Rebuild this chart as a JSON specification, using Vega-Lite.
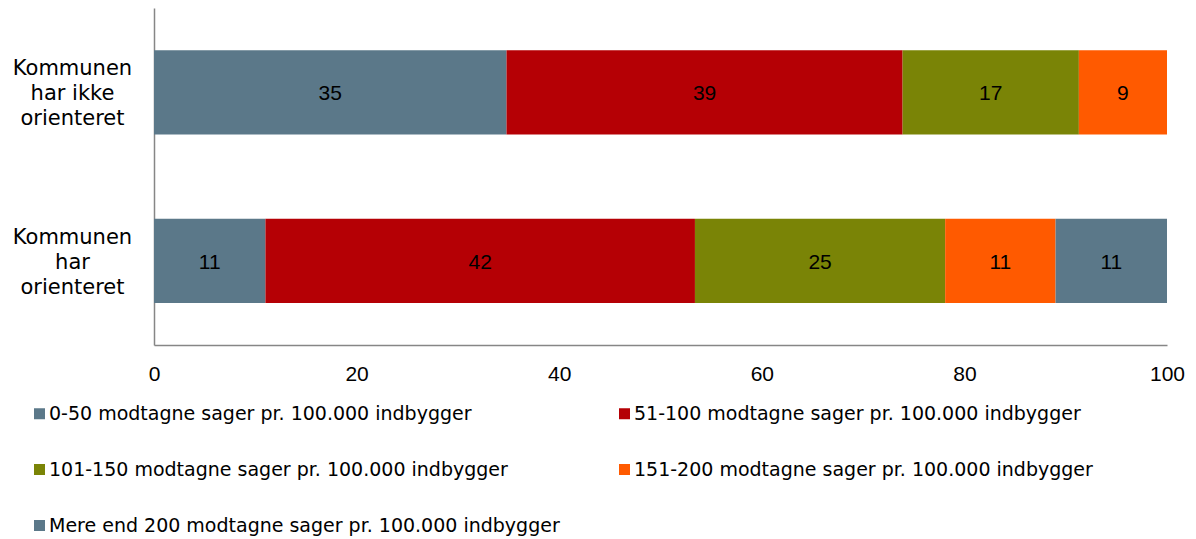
{
  "$schema": "https://vega.github.io/schema/vega-lite/v6.json",
  "autosize": {"type": "none"},
  "padding": {"left": 154, "top": 8, "right": 29, "bottom": 194},
  "width": 1013,
  "height": 337,
  "background": "white",
  "config": {"view": {"stroke": null}},
  "data": {
    "values": [
      {"group": "Kommunen|har ikke|orienteret", "cat": "0-50 modtagne sager pr. 100.000 indbygger", "value": 34.8},
      {"group": "Kommunen|har ikke|orienteret", "cat": "51-100 modtagne sager pr. 100.000 indbygger", "value": 39.1},
      {"group": "Kommunen|har ikke|orienteret", "cat": "101-150 modtagne sager pr. 100.000 indbygger", "value": 17.4},
      {"group": "Kommunen|har ikke|orienteret", "cat": "151-200 modtagne sager pr. 100.000 indbygger", "value": 8.7},
      {"group": "Kommunen|har|orienteret", "cat": "0-50 modtagne sager pr. 100.000 indbygger", "value": 11.0},
      {"group": "Kommunen|har|orienteret", "cat": "51-100 modtagne sager pr. 100.000 indbygger", "value": 42.4},
      {"group": "Kommunen|har|orienteret", "cat": "101-150 modtagne sager pr. 100.000 indbygger", "value": 24.7},
      {"group": "Kommunen|har|orienteret", "cat": "151-200 modtagne sager pr. 100.000 indbygger", "value": 10.9},
      {"group": "Kommunen|har|orienteret", "cat": "Mere end 200 modtagne sager pr. 100.000 indbygger", "value": 11.0}
    ]
  },
  "transform": [
    {"stack": "value", "groupby": ["group"], "as": ["v0", "v1"]},
    {"calculate": "(datum.v0 + datum.v1) / 2", "as": "mid"}
  ],
  "encoding": {
    "y": {
      "field": "group",
      "type": "nominal",
      "sort": null,
      "scale": {"paddingInner": 0.5, "paddingOuter": 0.25},
      "axis": {
        "title": null,
        "labelExpr": "split(datum.value, '|')",
        "labelFont": "DejaVu Sans",
        "labelFontSize": 21,
        "labelLineHeight": 25,
        "labelColor": "#000000",
        "labelAlign": "center",
        "labelPadding": 82,
        "labelOffset": -23,
        "ticks": false,
        "domainColor": "#868686",
        "domainWidth": 1.5
      }
    }
  },
  "layer": [
    {
      "mark": {"type": "bar"},
      "encoding": {
        "x": {
          "field": "v0",
          "type": "quantitative",
          "scale": {"domain": [0, 100], "nice": false},
          "axis": {
            "title": null,
            "values": [0, 20, 40, 60, 80, 100],
            "grid": false,
            "ticks": false,
            "labelFont": "Liberation Sans",
            "labelFontSize": 21,
            "labelColor": "#000000",
            "labelPadding": 18,
            "labelFlush": false,
            "domainColor": "#868686",
            "domainWidth": 1.5
          }
        },
        "x2": {"field": "v1"},
        "color": {
          "field": "cat",
          "type": "nominal",
          "scale": {
            "domain": [
              "0-50 modtagne sager pr. 100.000 indbygger",
              "101-150 modtagne sager pr. 100.000 indbygger",
              "Mere end 200 modtagne sager pr. 100.000 indbygger",
              "51-100 modtagne sager pr. 100.000 indbygger",
              "151-200 modtagne sager pr. 100.000 indbygger"
            ],
            "range": ["#5B7889", "#7A8406", "#5B7889", "#B50005", "#FF5A00"]
          },
          "legend": {
            "title": null,
            "orient": "none",
            "legendX": -124,
            "legendY": 396,
            "columns": 2,
            "columnPadding": 55,
            "rowPadding": 36,
            "symbolType": "square",
            "symbolSize": 121,
            "symbolStrokeWidth": 0,
            "labelFont": "DejaVu Sans",
            "labelFontSize": 19,
            "labelColor": "#000000",
            "labelLimit": 700,
            "labelOffset": 0
          }
        }
      }
    },
    {
      "mark": {"type": "text", "font": "Liberation Sans", "fontSize": 21, "color": "#000000", "baseline": "middle", "dy": 2},
      "encoding": {
        "x": {"field": "mid", "type": "quantitative"},
        "text": {"field": "value", "type": "quantitative", "format": ".0f"}
      }
    }
  ]
}
